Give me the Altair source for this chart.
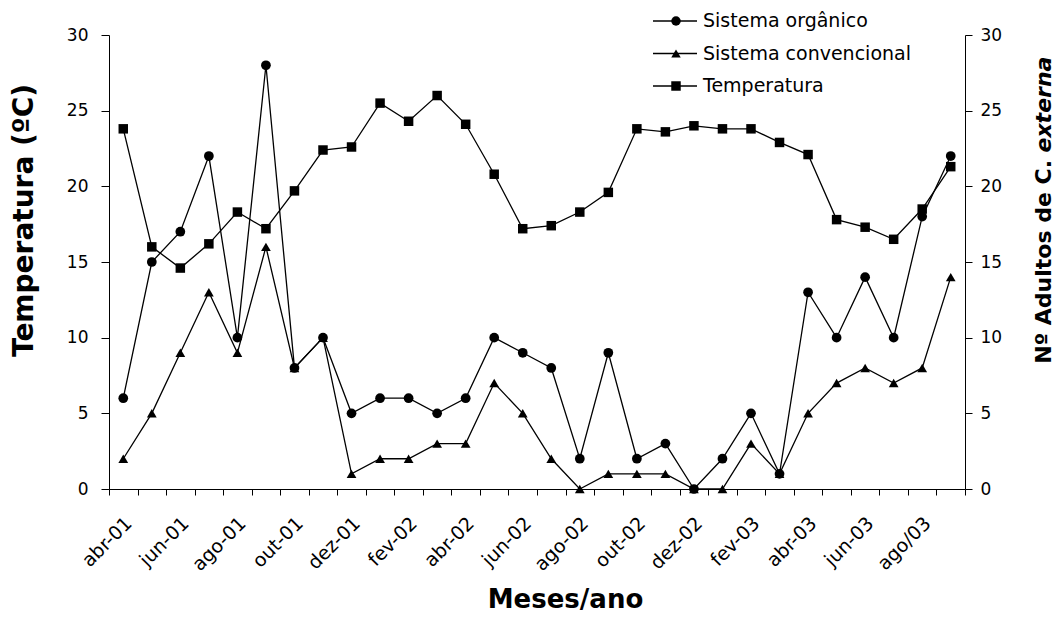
import json
import altair as alt
import pandas as pd

# ---------------- data ----------------
months = ["abr-01", "mai-01", "jun-01", "jul-01", "ago-01", "set-01", "out-01", "nov-01",
          "dez-01", "jan-02", "fev-02", "mar-02", "abr-02", "mai-02", "jun-02", "jul-02",
          "ago-02", "set-02", "out-02", "nov-02", "dez-02", "jan-03", "fev-03", "mar-03",
          "abr-03", "mai-03", "jun-03", "jul-03", "ago/03", "set-03"]
tick_labels = ["abr-01", "jun-01", "ago-01", "out-01", "dez-01", "fev-02", "abr-02", "jun-02",
               "ago-02", "out-02", "dez-02", "fev-03", "abr-03", "jun-03", "ago/03"]
temperatura = [23.8, 16.0, 14.6, 16.2, 18.3, 17.2, 19.7, 22.4, 22.6, 25.5, 24.3, 26.0, 24.1, 20.8,
               17.2, 17.4, 18.3, 19.6, 23.8, 23.6, 24.0, 23.8, 23.8, 22.9, 22.1, 17.8, 17.3, 16.5,
               18.5, 21.3]
organico = [6, 15, 17, 22, 10, 28, 8, 10, 5, 6, 6, 5, 6, 10, 9, 8, 2, 9, 2, 3, 0, 2, 5, 1, 13, 10,
            14, 10, 18, 22]
convencional = [2, 5, 9, 13, 9, 16, 8, 10, 1, 2, 2, 3, 3, 7, 5, 2, 0, 1, 1, 1, 0, 0, 3, 1, 5, 7, 8,
                7, 8, 14]
y_ticks = [0, 5, 10, 15, 20, 25, 30]
legend_names = ["Sistema orgânico", "Sistema convencional", "Temperatura"]
legend_shapes = ["circle", "triangle-up", "square"]
legend_order = [0, 1, 2]
right_title_parts = ["Nº Adultos de C.", "externa"]

FONT = "DejaVu Sans"
df = pd.DataFrame({"mes": months, "temp": temperatura, "org": organico, "conv": convencional})

label_expr = "indexof(" + json.dumps(tick_labels) + ", datum.value) >= 0 ? datum.value : ''"

x_axis = alt.Axis(
    title="Meses/ano", labelExpr=label_expr, labelAngle=315, labelAlign="right",
    labelBaseline="middle", labelFontSize=19, labelFont=FONT, labelColor="black",
    labelPadding=25, labelOffset=5, labelOverlap=False, labelFlush=False, tickBand="extent",
    tickSize=6, tickColor="black", domainColor="black", titleFont=FONT, titleFontSize=26,
    titleFontWeight="bold", titleColor="black", titleX=456, titleY=110, titleAlign="center",
    titleBaseline="middle", grid=False)
x_enc = alt.X("mes:N", sort=months, bandPosition=0.5,
              scale=alt.Scale(type="band", paddingInner=0, paddingOuter=0), axis=x_axis)

y_scale = alt.Scale(domain=[0, 30], nice=False)

left_axis = alt.Axis(
    orient="left", values=y_ticks, title="Temperatura (ºC)", titleX=-85, titleY=185,
    titleAngle=270, titleAlign="center", titleBaseline="middle", titleFont=FONT,
    titleFontSize=28, titleFontWeight="bold", titleColor="black", labelFont=FONT,
    labelFontSize=17, labelColor="black", labelPadding=13, tickSize=8, tickColor="black",
    domainColor="black", grid=False)
right_axis = alt.Axis(
    orient="right", values=y_ticks, title="", labelFont=FONT, labelFontSize=17,
    labelColor="black", labelPadding=8, tickSize=7, tickColor="black", domainColor="black",
    grid=False)


def series(field, shape, size, axis):
    return alt.Chart(df).mark_line(
        color="black", strokeWidth=1.3,
        point=alt.OverlayMarkDef(shape=shape, size=size, filled=True, color="black", opacity=1),
    ).encode(x=x_enc, y=alt.Y(field + ":Q", scale=y_scale, axis=axis))


left = series("temp", "square", 90, left_axis)
right = alt.layer(
    series("org", "circle", 95, right_axis),
    series("conv", "triangle-up", 95, right_axis),
)

# ---------------- legend ----------------
legend_df = pd.DataFrame({"name": legend_names, "shape": legend_shapes, "idx": legend_order})
leg_y = alt.Y("idx:Q", scale=alt.Scale(domain=[0, 2], range=[-14, 51]), axis=None)
leg_rule = alt.Chart(legend_df).mark_rule(color="black", strokeWidth=1.3).encode(
    x=alt.value(544), x2=alt.value(588), y=leg_y)
leg_pts = alt.Chart(legend_df).mark_point(filled=True, color="black", opacity=1, size=90).encode(
    x=alt.value(567), y=leg_y, shape=alt.Shape("shape:N", scale=None))
leg_txt = alt.Chart(legend_df).mark_text(
    align="left", baseline="middle", font=FONT, fontSize=19, color="black").encode(
    x=alt.value(594), y=leg_y, text="name:N")
legend = alt.layer(leg_rule, leg_pts, leg_txt)

# ---------------- right axis title (partly italic) ----------------
t1 = alt.Chart(pd.DataFrame({"t": [right_title_parts[0]]})).mark_text(
    angle=270, align="right", baseline="middle", font=FONT, fontSize=22, fontWeight="bold",
    color="black").encode(x=alt.value(935), y=alt.value(125), text="t:N")
t2 = alt.Chart(pd.DataFrame({"t": [right_title_parts[1]]})).mark_text(
    angle=270, align="left", baseline="middle", font=FONT, fontSize=22, fontWeight="bold",
    fontStyle="italic", color="black").encode(x=alt.value(935), y=alt.value(117.5), text="t:N")

chart = alt.layer(left, right, legend, t1, t2).resolve_scale(y="independent").properties(
    width=856, height=454,
    padding={"left": 101, "top": 27, "right": 91, "bottom": 124},
    autosize=alt.AutoSizeParams(type="none"),
    background="white",
).configure_view(stroke=None)

chart.save("out.html", embed_options={"renderer": "svg", "actions": False})
